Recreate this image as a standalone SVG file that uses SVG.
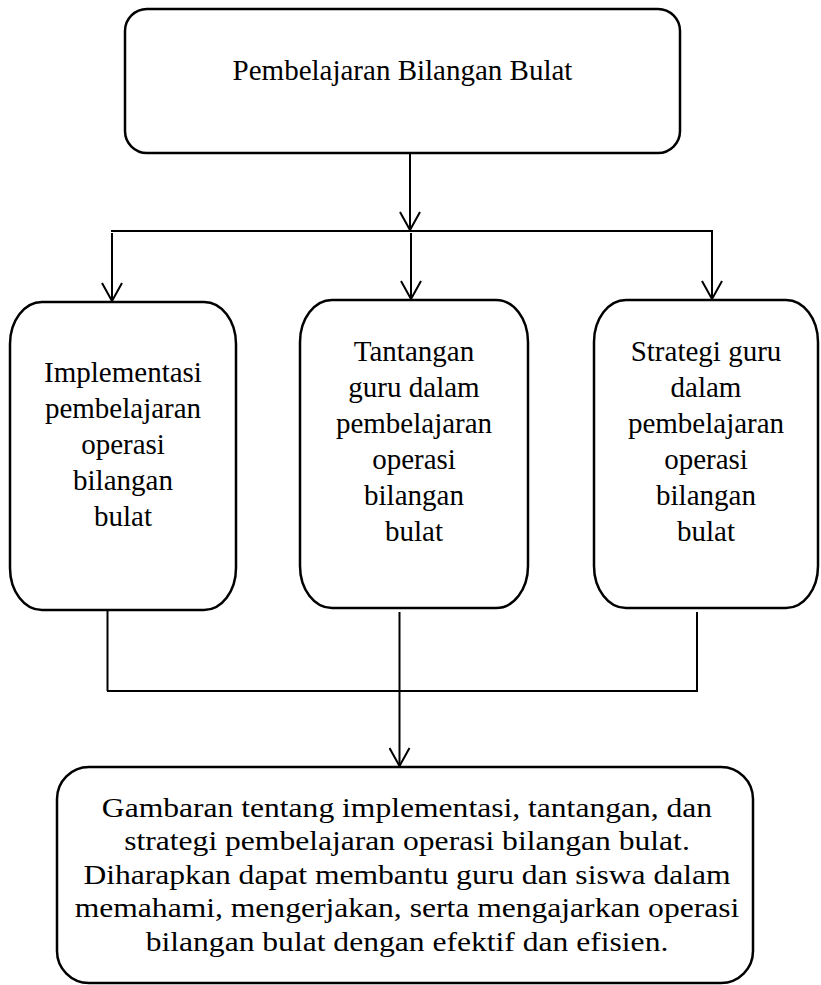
<svg xmlns="http://www.w3.org/2000/svg" width="821" height="985" viewBox="0 0 821 985">
<defs>
<style>
.box{fill:#fff;stroke:#000;stroke-width:2.5}
.ln{fill:none;stroke:#000;stroke-width:2}
.t{font-family:'Liberation Serif','Times New Roman',Tinos,serif;font-size:29px;fill:#000;text-anchor:middle}
.tb{font-family:'Liberation Serif','Times New Roman',Tinos,serif;font-size:27px;fill:#000;text-anchor:middle}
</style>
<marker id="arr" viewBox="-19 -11 21 22" markerWidth="21" markerHeight="22" refX="0" refY="0" orient="auto" markerUnits="userSpaceOnUse">
<path d="M-18,-10 L0,0 L-18,10" fill="none" stroke="#000" stroke-width="2"/>
</marker>
</defs>
<rect width="821" height="985" fill="#fff"/>
<g id="connectors">
<path class="ln" d="M410,153 L410,230" marker-end="url(#arr)"/>
<line class="ln" x1="111" y1="231" x2="713" y2="231"/>
<path class="ln" d="M112,233 L112,301" marker-end="url(#arr)"/>
<path class="ln" d="M411,233 L411,299" marker-end="url(#arr)"/>
<path class="ln" d="M712,231 L712,299" marker-end="url(#arr)"/>
<line class="ln" x1="107.5" y1="610" x2="107.5" y2="691"/>
<line class="ln" x1="697" y1="612" x2="697" y2="692"/>
<line class="ln" x1="107" y1="691" x2="698" y2="691"/>
<path class="ln" d="M399.5,612 L399.5,766" marker-end="url(#arr)"/>
</g>
<g id="node-top">
<rect class="box" x="125" y="9" width="555" height="144" rx="22" ry="22"/>
<text class="t" font-family="Liberation Serif, serif" x="402.5" y="80">Pembelajaran Bilangan Bulat</text>
</g>
<g id="node-implementasi">
<rect class="box" x="10" y="302" width="226" height="308" rx="32" ry="42"/>
<text class="t" font-family="Liberation Serif, serif" x="123"><tspan x="123" y="382">Implementasi</tspan><tspan x="123" y="418">pembelajaran</tspan><tspan x="123" y="454">operasi</tspan><tspan x="123" y="490">bilangan</tspan><tspan x="123" y="526">bulat</tspan></text>
</g>
<g id="node-tantangan">
<rect class="box" x="300" y="300" width="228" height="308" rx="32" ry="42"/>
<text class="t" font-family="Liberation Serif, serif" x="414"><tspan x="414" y="361">Tantangan</tspan><tspan x="414" y="397">guru dalam</tspan><tspan x="414" y="433">pembelajaran</tspan><tspan x="414" y="469">operasi</tspan><tspan x="414" y="505">bilangan</tspan><tspan x="414" y="541">bulat</tspan></text>
</g>
<g id="node-strategi">
<rect class="box" x="594" y="300" width="224" height="308" rx="32" ry="42"/>
<text class="t" font-family="Liberation Serif, serif" x="706"><tspan x="706" y="361">Strategi guru</tspan><tspan x="706" y="397">dalam</tspan><tspan x="706" y="433">pembelajaran</tspan><tspan x="706" y="469">operasi</tspan><tspan x="706" y="505">bilangan</tspan><tspan x="706" y="541">bulat</tspan></text>
</g>
<g id="node-gambaran">
<rect class="box" x="57" y="767" width="696" height="216" rx="32" ry="32"/>
<g transform="translate(407,0) scale(1.17,1)">
<text class="tb" font-family="Liberation Serif, serif" x="0"><tspan x="0" y="817">Gambaran tentang implementasi, tantangan, dan</tspan><tspan x="0" y="850.5">strategi pembelajaran operasi bilangan bulat.</tspan><tspan x="0" y="884">Diharapkan dapat membantu guru dan siswa dalam</tspan><tspan x="0" y="917.5">memahami, mengerjakan, serta mengajarkan operasi</tspan><tspan x="0" y="951">bilangan bulat dengan efektif dan efisien.</tspan></text>
</g>
</g>
</svg>
